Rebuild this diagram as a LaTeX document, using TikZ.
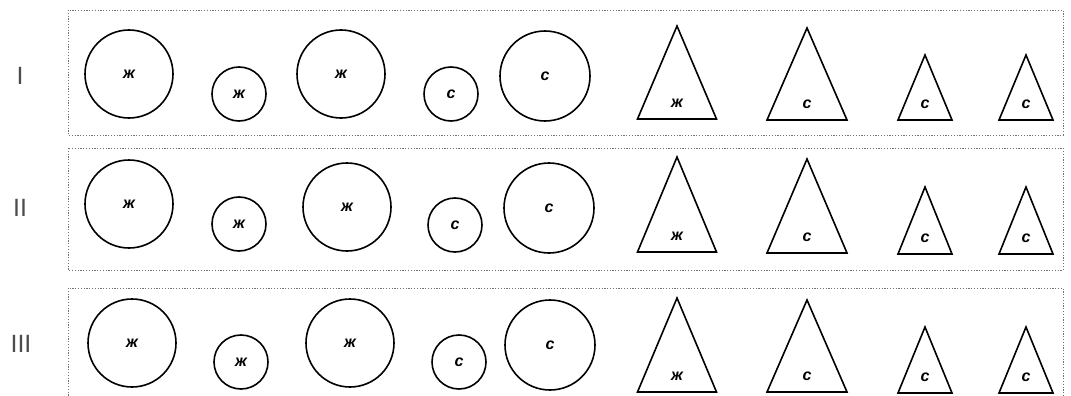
\documentclass[tikz,border=0pt]{standalone}
\usepackage{fontspec}
\setmainfont{Liberation Sans}
\newfontfamily\labfont[Scale=1]{Liberation Sans}
\tikzset{
  panel/.style={draw=black!55, line width=0.7pt, dash pattern=on 1.2pt off 1.6pt},
  ring/.style={circle, draw, line width=1.6pt, inner sep=0pt, font=\labfont\bfseries\itshape\fontsize{16}{16}\selectfont},
  trishape/.style={draw, line width=1.6pt, line join=miter},
  tribase/.style={draw, line width=2.2pt},
  lab/.style={inner sep=0pt, font=\labfont\bfseries\itshape\fontsize{16}{16}\selectfont},
  rowlab/.style={inner sep=0pt, text=black!70, font=\labfont\fontsize{25}{25}\selectfont},
}
\newcommand\mytri[6]{%
  \draw[trishape] (#2,#3) -- ({#2+#4},#5) -- ({#2-#4},#5) -- cycle;
  \draw[tribase] ({#2-#4},#5) -- ({#2+#4},#5);
  \node[lab] (#1) at (#2,{#5-16}) {#6};
}
\newcommand\myring[5]{%
  \node[ring, minimum size={2*#4 pt}] (#1) at (#2,#3) {#5};
}
\begin{document}
\begin{tikzpicture}[x=1pt,y=-1pt]
\useasboundingbox (0,0) rectangle (1071,396);
\clip (0,0) rectangle (1071,396);
% panels
\draw[panel] (68,10) rectangle (1063,135);
\draw[panel] (68,148) rectangle (1063,270);
\draw[panel] (68,288) rectangle (1063,420);
% row labels
\node[rowlab] (r1) at (20,76) {I};
\node[rowlab] (r2) at (20,208) {II};
\node[rowlab] (r3) at (21,344) {III};
% row 1
\myring{a1}{129}{74}{44}{ж}
\myring{a2}{239}{94}{27}{ж}
\myring{a3}{341}{74}{44}{ж}
\myring{a4}{451}{94}{27}{с}
\myring{a5}{545}{76}{45}{с}
\mytri{ta1}{677}{26}{39.5}{119}{ж}
\mytri{ta2}{807}{28}{40}{120}{с}
\mytri{ta3}{925}{55}{27}{120}{с}
\mytri{ta4}{1026}{55}{27}{120}{с}
% row 2
\myring{b1}{129}{204}{44}{ж}
\myring{b2}{239}{224}{27}{ж}
\myring{b3}{347}{207}{44}{ж}
\myring{b4}{455}{225}{27}{с}
\myring{b5}{549}{208}{45}{с}
\mytri{tb1}{677}{157}{39.5}{252}{ж}
\mytri{tb2}{807}{159}{40}{253}{с}
\mytri{tb3}{925}{187}{27}{254}{с}
\mytri{tb4}{1026}{187}{27}{254}{с}
% row 3
\myring{c1}{132}{343}{44}{ж}
\myring{c2}{241}{362}{27}{ж}
\myring{c3}{350}{343}{44}{ж}
\myring{c4}{459}{362}{27}{с}
\myring{c5}{550}{345}{45}{с}
\mytri{tc1}{677}{298}{39.5}{392}{ж}
\mytri{tc2}{807}{300}{40}{392}{с}
\mytri{tc3}{925}{327}{27}{393}{с}
\mytri{tc4}{1026}{327}{27}{393}{с}
\end{tikzpicture}
\end{document}
